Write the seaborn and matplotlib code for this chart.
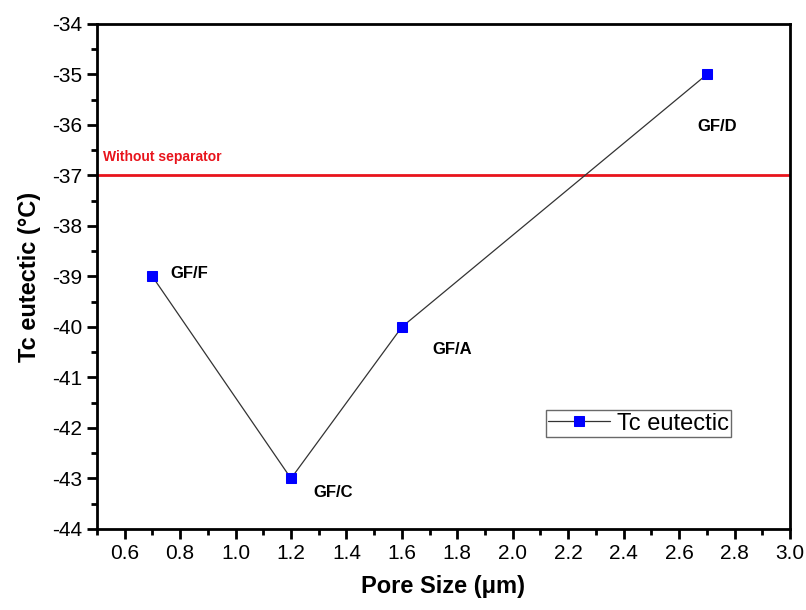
import matplotlib
matplotlib.use("Agg")
import matplotlib.pyplot as plt
import seaborn as sns
import pandas as pd
from matplotlib.ticker import MultipleLocator, FormatStrFormatter

pore_size = [0.7, 1.2, 1.6, 2.7]
tc_eutectic = [-39, -43, -40, -35]
labels = ["GF/F", "GF/C", "GF/A", "GF/D"]
label_x = [0.765, 1.28, 1.71, 2.665]
label_y = [-38.95, -43.28, -40.45, -36.03]
ref_value = -37
ref_label = "Without separator"

sns.set_style("ticks")
plt.rcParams['font.family'] = ['Liberation Sans', 'DejaVu Sans']
plt.rcParams['axes.unicode_minus'] = False
plt.rcParams['text.color'] = 'black'
plt.rcParams['axes.labelcolor'] = 'black'
plt.rcParams['xtick.color'] = 'black'
plt.rcParams['ytick.color'] = 'black'

df = pd.DataFrame({"Pore Size": pore_size, "Tc": tc_eutectic})

fig = plt.figure(figsize=(8.06, 6.10), dpi=100)
ax = fig.add_axes([0.1203, 0.1328, 0.8598, 0.8279])

ax.axhline(ref_value, color="#e8141c", lw=2, zorder=1)
sns.lineplot(data=df, x="Pore Size", y="Tc", ax=ax, color="#333333", lw=0.9,
             marker="s", markersize=7.5, markerfacecolor="#0000ff",
             markeredgecolor="#0000ff", label="Tc eutectic", zorder=3)

for t, x, y in zip(labels, label_x, label_y):
    ax.text(x, y, t, fontsize=12, fontweight="bold", ha="left", va="center",
            color="black")
ax.text(0.522, ref_value + 0.37, ref_label, fontsize=10, fontweight="bold",
        color="#e8141c", ha="left", va="center")

ax.set_xlim(0.5, 3.0)
ax.set_ylim(-44, -34)
ax.xaxis.set_minor_locator(MultipleLocator(0.1))
ax.yaxis.set_major_locator(MultipleLocator(1))
ax.yaxis.set_minor_locator(MultipleLocator(0.5))
xt = [round(0.6 + 0.2 * i, 1) for i in range(13)]
ax.set_xticks(xt)
ax.xaxis.set_major_formatter(FormatStrFormatter("%.1f"))
ax.yaxis.set_major_formatter(FormatStrFormatter("%d"))
ax.tick_params(axis="both", which="major", direction="out", length=7, width=2,
               labelsize=15, color="black", labelcolor="black")
ax.tick_params(axis="both", which="minor", direction="out", length=4, width=2,
               color="black")
for s in ax.spines.values():
    s.set_linewidth(2)
    s.set_color("black")

ax.set_xlabel("Pore Size (\u03bcm)", fontsize=17, fontweight="bold", labelpad=9,
              color="black")
ax.set_ylabel("Tc eutectic (\u00b0C)", fontsize=17, fontweight="bold", labelpad=8,
              color="black")

leg = ax.legend(loc="lower left", bbox_to_anchor=(0.648, 0.182), fontsize=17,
                frameon=True, fancybox=False, handlelength=2.6, borderpad=0.1,
                handletextpad=0.3, borderaxespad=0)
leg.get_frame().set_edgecolor("#444444")
leg.get_frame().set_linewidth(1)
for txt in leg.get_texts():
    txt.set_color("black")

fig.savefig("out.png", dpi=100)
